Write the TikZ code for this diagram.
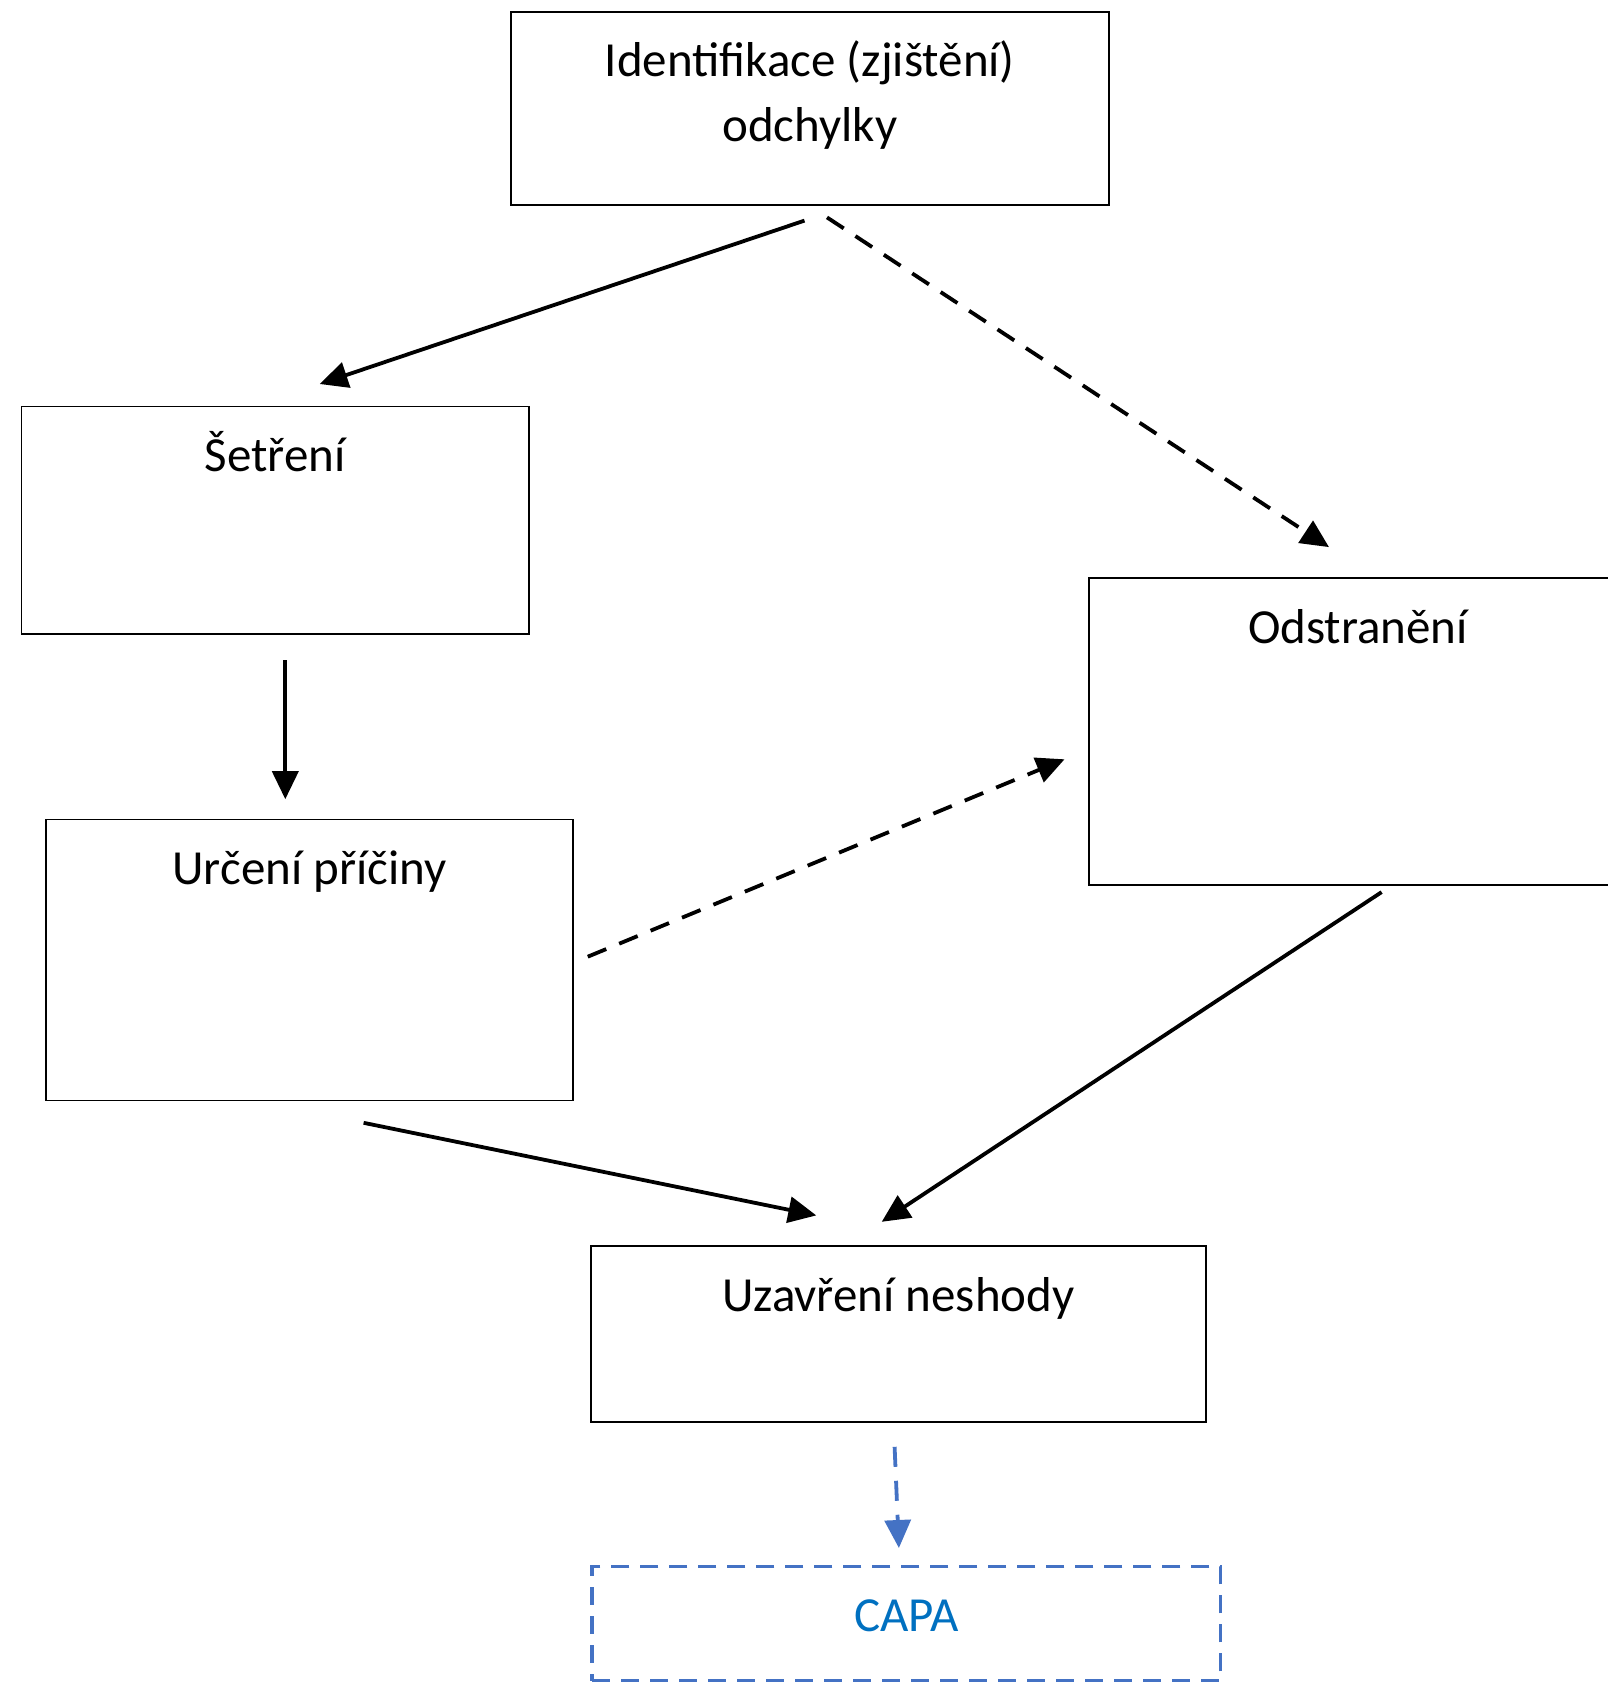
\documentclass[tikz,border=0pt]{standalone}
\usepackage{fontspec}
\setmainfont{Carlito}
\usetikzlibrary{arrows.meta,calc}
\definecolor{capablue}{HTML}{4472C4}
\definecolor{capatext}{HTML}{0070C0}
\begin{document}
\begin{tikzpicture}[x=1pt,y=-1pt,
  stage/.style={draw,line width=1.8pt,anchor=north,inner sep=0pt,align=center,
    font=\fontsize{49}{65}\selectfont,text height=65pt},
  flow/.style={line width=3.8pt,-{Triangle[length=28pt,width=26pt]}},
  flowdash/.style={flow,dash pattern=on 20pt off 14pt}]
\useasboundingbox (0,0) rectangle (1608,1682);
\node[stage,minimum width=598.6pt,text height=130pt,text depth=63.1pt] (ident) at (809.9,10.7) {Identifikace (zjištění)\\odchylky};
\node[stage,minimum width=507.3pt,text depth=162.4pt] (setr) at (275.2,405.5) {Šetření};
\node[stage,minimum width=526.7pt,text depth=216pt] (urc) at (309.5,818.5) {Určení příčiny};
\node[stage,minimum width=538pt,text depth=241.8pt] (odst) at (1358,577.1) {Odstranění};
\node[stage,minimum width=614.7pt,text depth=110.9pt] (uzav) at (898.4,1245.4) {Uzavření neshody};
\node[stage,draw=capablue,text=capatext,dash pattern=on 18pt off 11pt,line width=3.2pt,
  minimum width=628.7pt,text depth=49pt] (capa) at (906.4,1565) {CAPA};

\draw[flow] ($(ident.south)+(-5.4,15)$) -- ($(setr.north)+(44.5,-21.5)$);
\draw[flowdash] ($(ident.south)+(17.1,11.8)$) -- ($(odst.north)+(-29,-30)$);
\draw[flow] ($(setr.south)+(10.1,25.7)$) -- ($(urc.north)+(-24.2,-19.3)$);
\draw[flowdash] ($(urc.east)+(14,-3.2)$) -- ($(odst.west)+(-23.6,27.9)$);
\draw[flow] ($(urc.south)+(54.1,21.5)$) -- ($(uzav.north)+(-82.1,-30)$);
\draw[flow] ($(odst.south)+(23.6,6.4)$) -- ($(uzav.north)+(-16.7,-23.6)$);
\draw[flow,capablue,dash pattern=on 20pt off 14pt] ($(uzav.south)+(-3.8,23.7)$) -- ($(capa.north)+(-7.5,-17)$);
\end{tikzpicture}
\end{document}
